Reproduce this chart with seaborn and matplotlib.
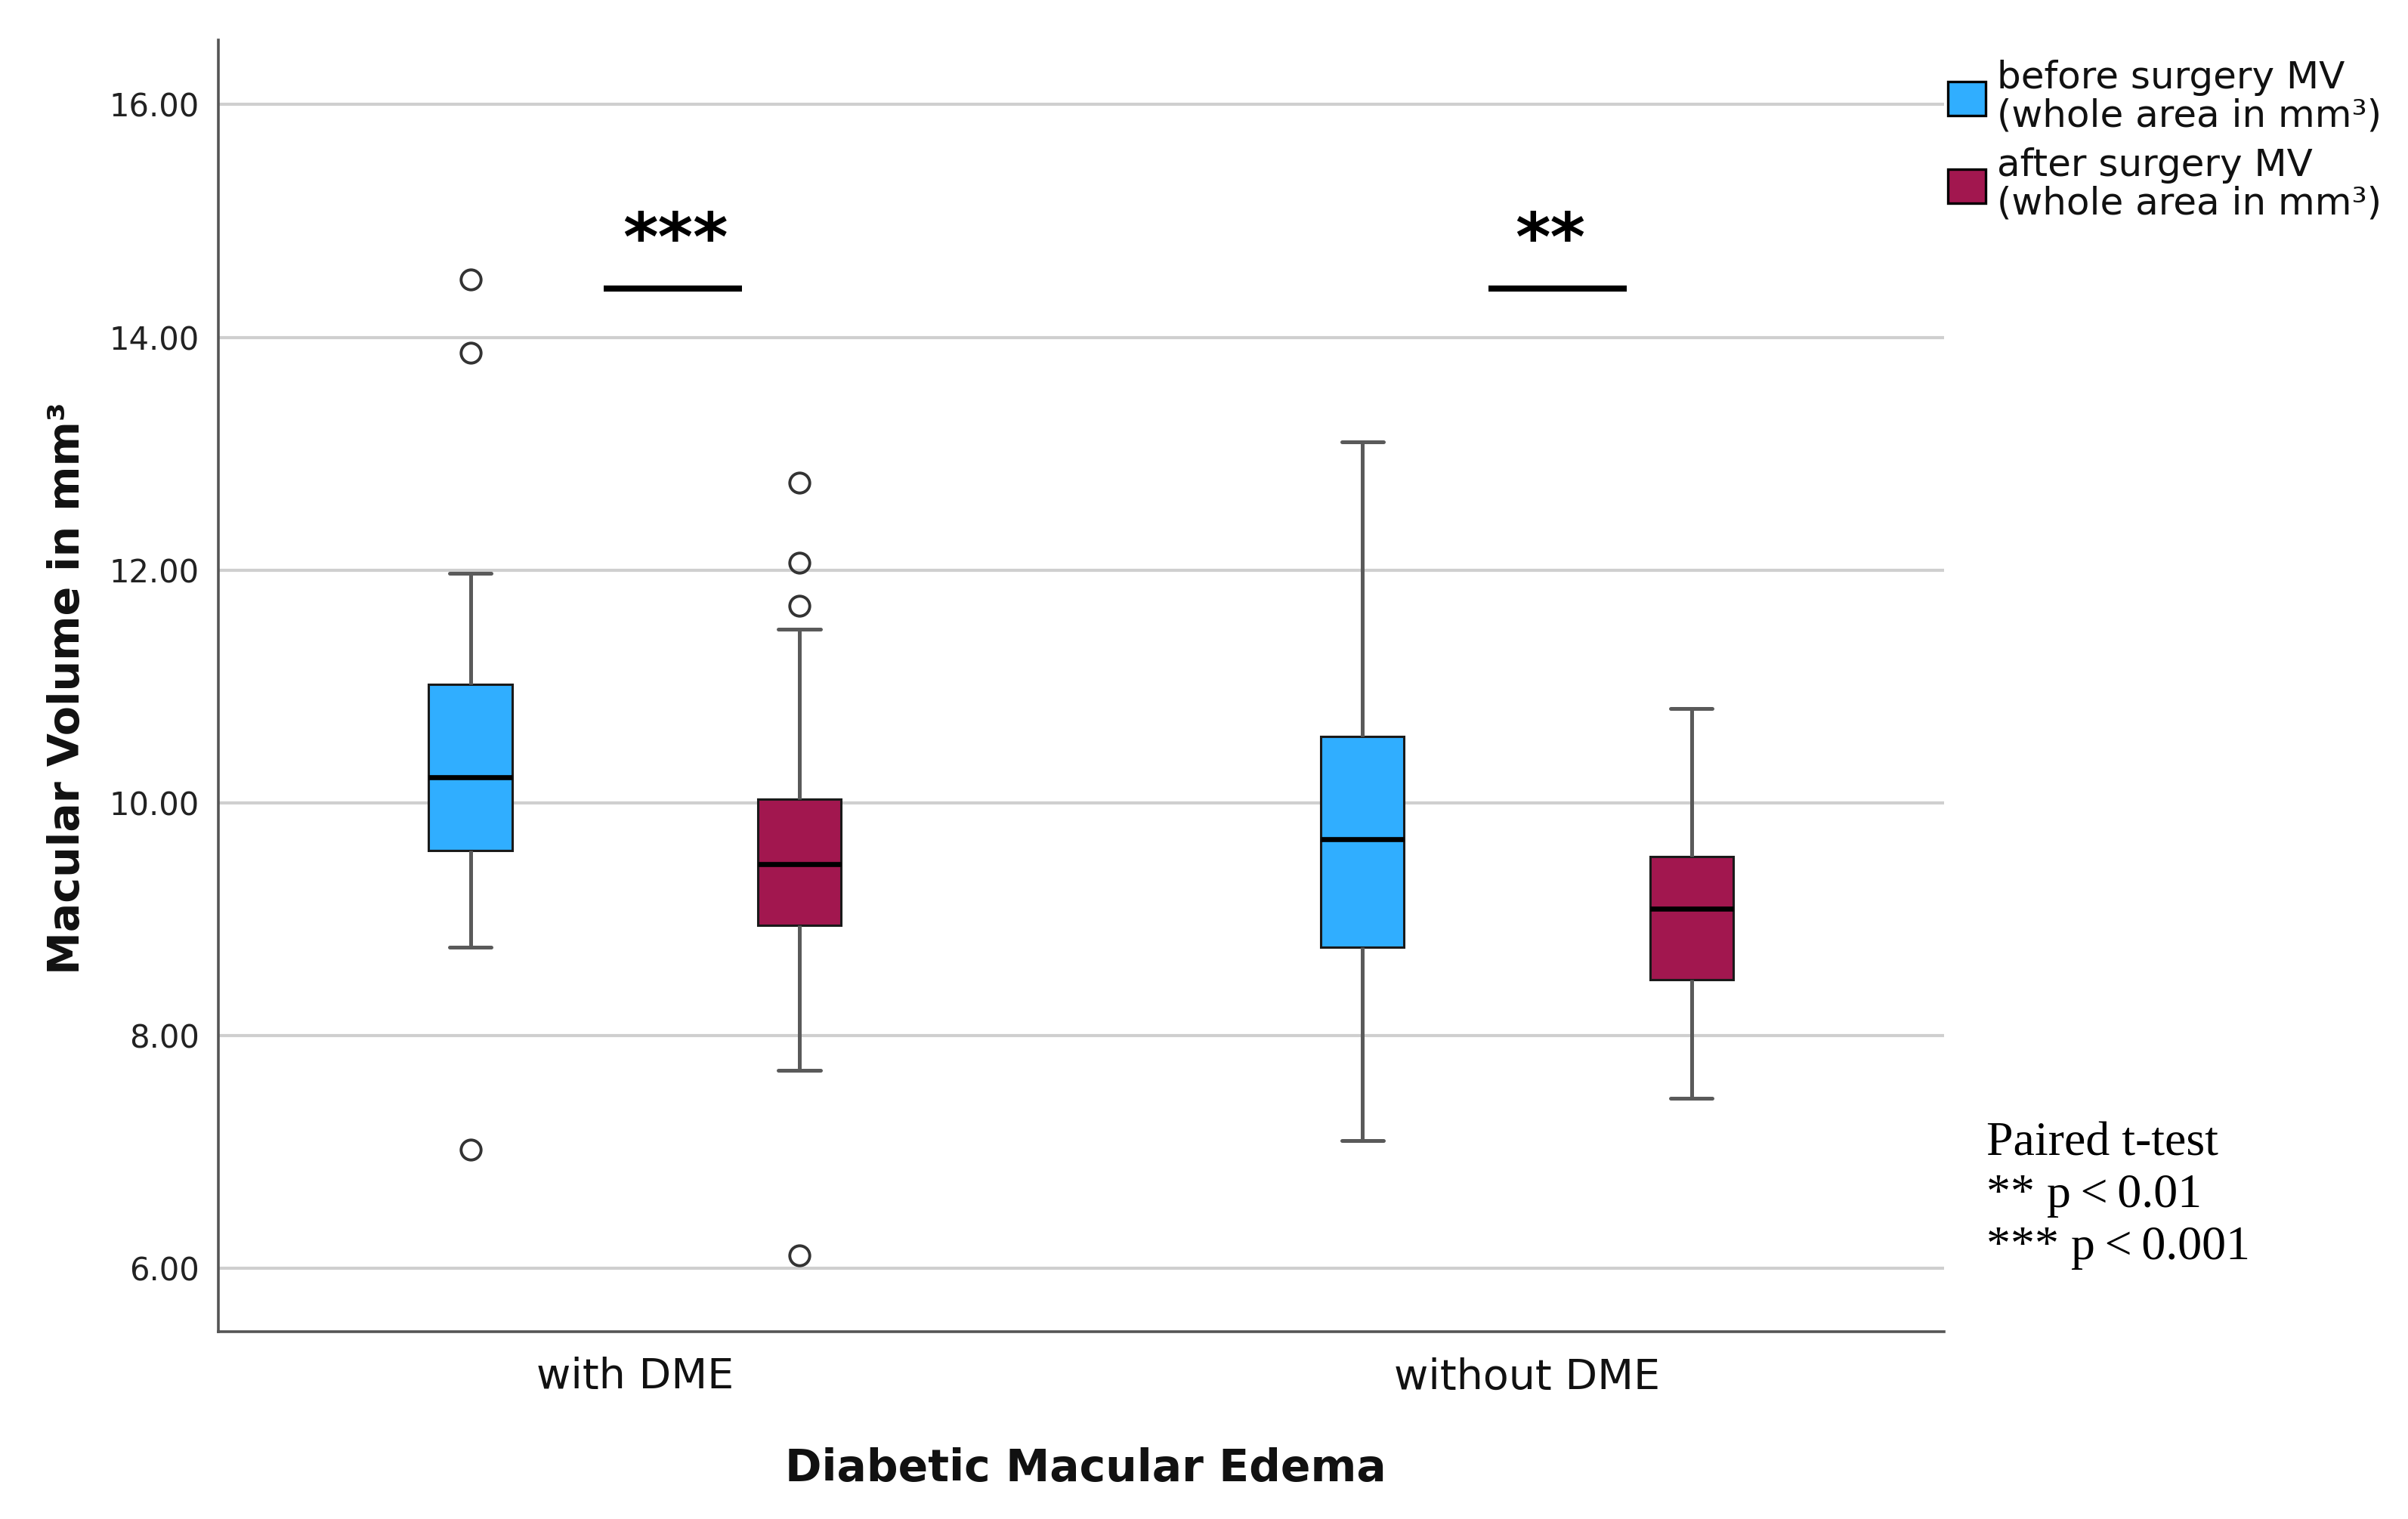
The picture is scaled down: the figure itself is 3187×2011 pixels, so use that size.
import numpy as np
import pandas as pd
import matplotlib
matplotlib.use("Agg")
import matplotlib.pyplot as plt
from matplotlib.patches import Patch
import seaborn as sns

# ---- data (summary values per box) ----
categories = ["with DME", "without DME"]
hue_levels = ["before surgery MV\n(whole area in mm³)", "after surgery MV\n(whole area in mm³)"]
# order: (with DME, before), (with DME, after), (without DME, before), (without DME, after)
q1_vals = [9.59, 8.95, 8.76, 8.48]
median_vals = [10.22, 9.47, 9.69, 9.09]
q3_vals = [11.02, 10.03, 10.57, 9.54]
whisker_low = [8.76, 7.70, 7.10, 7.46]
whisker_high = [11.97, 11.49, 13.10, 10.81]
fliers_low = [[7.02], [6.11], [], []]
fliers_high = [[13.87, 14.50], [11.69, 12.06, 12.75], [], []]

y_ticks = [6, 8, 10, 12, 14, 16]
sig_labels = ["***", "**"]
sig_level = 14.42
note_lines = ["Paired t-test", "** p\u2009<\u20090.01", "*** p\u2009<\u20090.001"]

colors = ["#30AEFF", "#A2174F"]


def sample_from_summary(q1, med, q3, wlo, whi, flo, fhi):
    """Build a small sample whose box-plot statistics equal the read values."""
    low = list(flo) + [wlo]
    high = [whi] + list(fhi)
    k = max(len(low), len(high))
    low = low + [wlo] * (k - len(low))
    high = high + [whi] * (k - len(high))
    return low + [q1] * k + [med] + [q3] * k + high


rows = []
i = 0
for cat in categories:
    for hue in hue_levels:
        vals = sample_from_summary(q1_vals[i], median_vals[i], q3_vals[i],
                                   whisker_low[i], whisker_high[i],
                                   fliers_low[i], fliers_high[i])
        rows += [{"group": cat, "time": hue, "value": v} for v in vals]
        i += 1
df = pd.DataFrame(rows)

sns.set_theme(style="white")
plt.rcParams["font.family"] = ["DejaVu Sans"]

fig = plt.figure(figsize=(15.935, 10.055), dpi=200)
ax = fig.add_axes([0.0907, 0.1233, 0.8073 - 0.0907, 0.9736 - 0.1233])

sns.boxplot(
    data=df, x="group", y="value", hue="time",
    order=categories, hue_order=hue_levels,
    palette=colors, saturation=1, width=0.7377, gap=0.747,
    whis=1.5, linecolor="#1a1a1a", linewidth=1.1,
    whiskerprops=dict(color="#5a5a5a", linewidth=1.8),
    capprops=dict(color="#5a5a5a", linewidth=1.8),
    medianprops=dict(color="black", linewidth=2.4),
    flierprops=dict(marker="o", markerfacecolor="none", markeredgecolor="#333333",
                    markersize=9.5, markeredgewidth=1.4),
    legend=False, ax=ax,
)

ax.set_xlim(-0.4669, 1.4675)
ax.set_ylim(5.455, 16.554)
ax.set_yticks(y_ticks)
ax.set_yticklabels([f"{t:.2f}" for t in y_ticks])
ax.tick_params(axis="y", length=0, pad=9, labelsize=15, labelcolor="#222222")
ax.tick_params(axis="x", length=0, pad=12, labelsize=20, labelcolor="#111111")
ax.yaxis.grid(True, color="#cfcfcf", linewidth=1.5)
ax.xaxis.grid(False)
ax.set_axisbelow(True)
for side in ["top", "right"]:
    ax.spines[side].set_visible(False)
for side in ["left", "bottom"]:
    ax.spines[side].set_color("#555555")
    ax.spines[side].set_linewidth(1.3)

ax.set_xlabel("")
ax.set_ylabel("")
fig.text(0.4508, 0.033, "Diabetic Macular Edema", ha="center", va="center",
         fontsize=21, fontweight="bold", color="#111111")
fig.text(0.028, 0.547, "Macular Volume in mm³", ha="center", va="center",
         rotation=90, fontsize=20.5, fontweight="bold", color="#111111")

# significance bars (offsets relative to each category position)
bar_start = [-0.035, -0.043]
bar_end = [0.12, 0.112]
star_x = [0.045, 0.026]
for pos, lab in zip(range(len(categories)), sig_labels):
    ax.plot([pos + bar_start[pos], pos + bar_end[pos]], [sig_level, sig_level],
            color="black", linewidth=2.9, solid_capstyle="butt")
    ax.text(pos + star_x[pos], sig_level + 0.40, lab, ha="center", va="center",
            fontsize=32, fontweight="bold", color="black")

# legend
handles = [Patch(facecolor=c, edgecolor="black", linewidth=1.2) for c in colors]
leg = fig.legend(handles, hue_levels, loc="upper left", bbox_to_anchor=(0.8089, 0.9605),
                 frameon=False, fontsize=18, handlelength=1.0, handleheight=1.0,
                 handletextpad=0.3, borderaxespad=0, borderpad=0, labelspacing=0.36)
for t in leg.get_texts():
    t.set_linespacing(1.05)
    t.set_color("#111111")

# note text
note_y = [1 - 1515 / 2011, 1 - 1583 / 2011, 1 - 1652 / 2011]
for yy, line in zip(note_y, note_lines):
    fig.text(2629 / 3187, yy, line, ha="left", va="center", fontsize=23,
             family=["Liberation Serif", "DejaVu Serif"], color="black")

fig.savefig("out.png", dpi=200, facecolor="white")
